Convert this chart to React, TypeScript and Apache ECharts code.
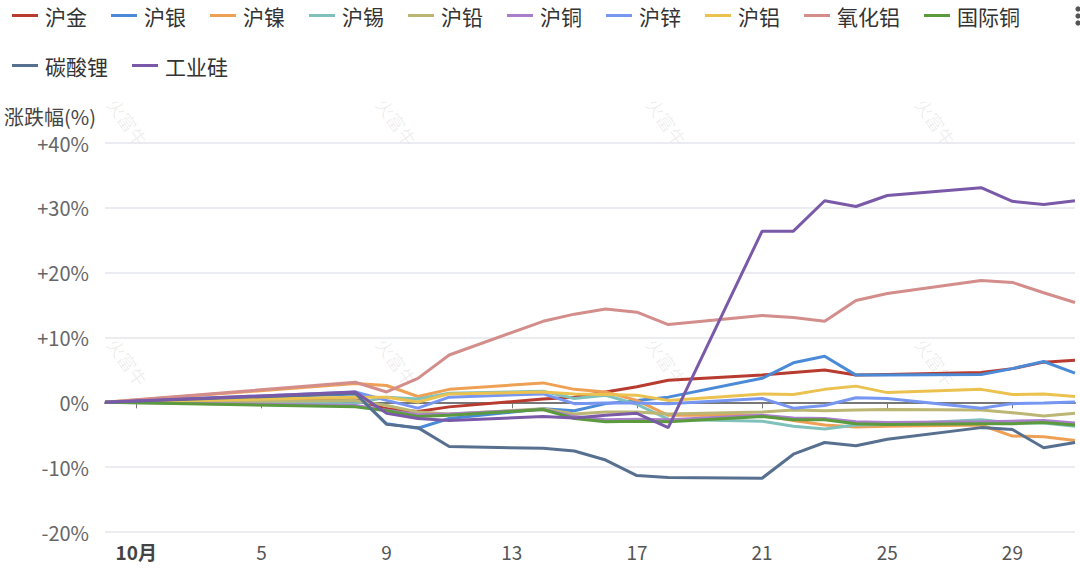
import React, { useEffect, useRef } from "react";
import * as echarts from "echarts";

const dates = ["09-30", "10-08", "10-09", "10-10", "10-11", "10-14", "10-15", "10-16", "10-17", "10-18", "10-21", "10-22", "10-23", "10-24", "10-25", "10-28", "10-29", "10-30", "10-31"];

const seriesNames = ["沪金", "沪银", "沪镍", "沪锡", "沪铅", "沪铜", "沪锌", "沪铝", "氧化铝", "国际铜", "碳酸锂", "工业硅"];
const seriesColors = ["#b83b30", "#4a8ad6", "#eea055", "#80c1bc", "#bcb674", "#a97fcb", "#7696f2", "#ebc250", "#d38d8b", "#5b9a3d", "#587090", "#7a5aa8"];

const huJin = [0, 0.4, -1.0, -1.4, -0.7, 0.5, 0.8, 1.6, 2.4, 3.4, 4.2, 4.6, 5.0, 4.2, 4.3, 4.6, 5.2, 6.2, 6.5];
const huYin = [0, 1.3, -3.3, -4.0, -2.5, -1.0, -1.3, -0.2, 0.3, 0.8, 3.7, 6.1, 7.1, 4.2, 4.2, 4.3, 5.2, 6.3, 4.5];
const huNie = [0, 2.9, 2.6, 0.9, 2.0, 3.0, 2.0, 1.6, 0.3, -2.0, -2.0, -2.8, -3.5, -3.8, -3.7, -3.5, -5.2, -5.3, -5.9];
const huXi = [0, -0.2, 0.8, 0.5, 1.4, 1.7, 0.6, 1.1, -0.3, -2.6, -2.9, -3.7, -4.1, -3.5, -3.4, -2.7, -3.2, -3.2, -3.7];
const huQian = [0, 0.3, -0.5, -1.5, -1.8, -1.0, -1.8, -1.5, -1.5, -1.8, -1.5, -1.2, -1.3, -1.2, -1.1, -1.2, -1.6, -2.1, -1.7];
const huTong = [0, -0.5, -1.2, -1.9, -1.8, -1.1, -2.2, -2.7, -2.6, -2.7, -2.0, -2.4, -2.5, -3.0, -3.1, -3.0, -2.9, -2.8, -3.2];
const huXin = [0, 1.6, 0.3, -0.9, 0.8, 1.3, -0.2, -0.1, -0.1, -0.2, 0.6, -0.9, -0.5, 0.7, 0.6, -0.9, -0.2, -0.1, 0.05];
const huLv = [0, 0.8, 0.8, 0.05, 1.3, 1.6, 1.3, 1.2, 1.1, 0.3, 1.3, 1.2, 2.0, 2.5, 1.5, 2.0, 1.2, 1.3, 0.9];
const yangHuaLv = [0, 3.1, 1.6, 3.7, 7.3, 12.5, 13.6, 14.4, 13.9, 12.0, 13.4, 13.1, 12.5, 15.7, 16.8, 18.8, 18.5, 16.9, 15.4];
const guoJiTong = [0, -0.7, -1.3, -2.2, -2.0, -1.1, -2.5, -3.0, -2.9, -3.0, -2.2, -2.7, -2.7, -3.3, -3.4, -3.3, -3.3, -3.1, -3.5];
const tanSuanLi = [0, 1.4, -3.4, -3.9, -6.8, -7.1, -7.5, -8.9, -11.3, -11.6, -11.7, -8.0, -6.2, -6.7, -5.7, -3.9, -4.2, -7.0, -6.2];
const gongYeGui = [0, 1.6, -1.7, -2.5, -2.8, -2.2, -2.4, -2.0, -1.7, -3.9, 26.4, 26.4, 31.1, 30.2, 31.9, 33.1, 31.0, 30.5, 31.1];

const seriesValues = [huJin, huYin, huNie, huXi, huQian, huTong, huXin, huLv, yangHuaLv, guoJiTong, tanSuanLi, gongYeGui];

const xTickDays = [1, 5, 9, 13, 17, 21, 25, 29];
const yTicks = { min: -20, max: 40, interval: 10 };
const yAxisTitle = "涨跌幅(%)";

// day index: Oct d -> d - 1, Sep 30 -> -1
const dayIndex = (s: string) => {
  const [m, d] = s.split("-").map(Number);
  return m === 9 ? d - 31 : d - 1;
};

const FONT = "'Noto Sans CJK SC', 'Noto Sans', sans-serif";

export default function App() {
  const ref = useRef<HTMLDivElement>(null);
  useEffect(() => {
    if (!ref.current) return;
    document.body.style.margin = "0";
    const chart = echarts.init(ref.current, undefined, { renderer: "svg" });
    const xs = dates.map(dayIndex);
    const watermarkPos = [
      [128, 122], [397, 122], [667, 122], [936, 122],
      [128, 362], [397, 362], [667, 362], [936, 362],
    ];
    const legendCommon = {
      icon: "rect",
      itemWidth: 26,
      itemHeight: 3,
      itemGap: 24,
      left: 7,
      textStyle: { fontSize: 21, color: "#333", fontFamily: FONT, padding: [0, 0, 0, 2] },
    };
    chart.setOption({
      animation: false,
      color: seriesColors,
      legend: [
        { ...legendCommon, top: 0, data: seriesNames.slice(0, 10) },
        { ...legendCommon, top: 50, data: seriesNames.slice(10) },
      ],
      grid: { left: 105, right: 5, top: 143, bottom: 37 },
      xAxis: {
        type: "value",
        min: dayIndex(dates[0]),
        max: dayIndex(dates[dates.length - 1]),
        splitLine: { show: false },
        axisLine: { show: true, lineStyle: { color: "#777", width: 2 } },
        axisTick: {
          show: true,
          length: 6,
          lineStyle: { color: "#777", width: 1 },
          customValues: xTickDays.map((d) => d - 1),
        },
        axisLabel: {
          customValues: xTickDays.map((d) => d - 1),
          margin: 10,
          fontSize: 19,
          color: "#555",
          fontFamily: FONT,
          formatter: (v: number) => (v === 0 ? "{b|10月}" : String(v + 1)),
          rich: { b: { fontWeight: "bold", fontSize: 19, color: "#444", fontFamily: FONT } },
        },
      },
      yAxis: {
        type: "value",
        min: yTicks.min,
        max: yTicks.max,
        interval: yTicks.interval,
        axisLine: { show: false },
        axisTick: { show: false },
        splitLine: { lineStyle: { color: "#e4e4ee", width: 1.5 } },
        axisLabel: {
          margin: 16,
          fontSize: 20,
          color: "#666",
          fontFamily: FONT,
          formatter: (v: number) => (v > 0 ? "+" + v + "%" : v + "%"),
        },
      },
      graphic: [
        ...watermarkPos.map(([x, y]) => ({
          type: "text",
          x,
          y,
          rotation: -0.95,
          z: -1,
          style: {
            text: "火富牛",
            fontSize: 18,
            fontFamily: FONT,
            fill: "rgba(0,0,0,0.08)",
            align: "center",
            verticalAlign: "middle",
          },
        })),
        {
          type: "text",
          left: 4,
          top: 106,
          style: { text: yAxisTitle, fontSize: 20, fontFamily: FONT, fill: "#444" },
        },
        ...[9, 16, 23].map((y) => ({
          type: "circle",
          shape: { cx: 1078, cy: y, r: 2.6 },
          style: { fill: "#555" },
        })),
      ],
      series: seriesNames.map((name, i) => ({
        name,
        type: "line",
        symbol: "none",
        lineStyle: { width: 3, color: seriesColors[i] },
        itemStyle: { color: seriesColors[i] },
        data: xs.map((x, j) => [x, seriesValues[i][j]]),
      })),
    });
    return () => {
      chart.dispose();
    };
  }, []);
  return <div ref={ref} style={{ width: 1080, height: 569 }} />;
}
